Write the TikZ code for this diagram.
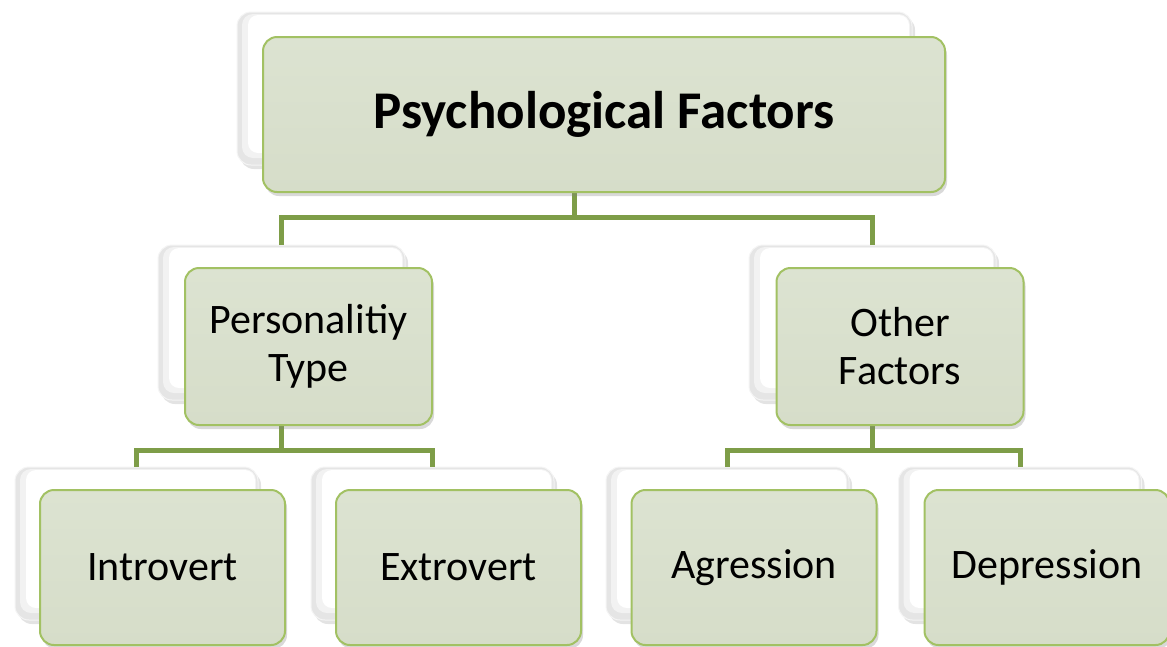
\documentclass[tikz,border=0pt]{standalone}
\usepackage{fontspec}
\setmainfont{Carlito}
\usetikzlibrary{shadows}
\definecolor{boxfill}{HTML}{D6DDC9}
\definecolor{boxfilltop}{HTML}{DCE3D1}
\definecolor{boxline}{HTML}{A2C163}
\definecolor{conn}{HTML}{7E9D48}
\tikzset{
  backbox/.style={rounded corners=14pt, minimum width=#1, inner sep=0pt, outer sep=0pt,
    draw=gray!8, line width=1pt, fill=gray!20,
    path picture={
      \fill[gray!10, rounded corners=11pt]
      ([xshift=5pt,yshift=-2pt]path picture bounding box.north west) rectangle
      ([xshift=-2pt,yshift=7pt]path picture bounding box.south east);
      \fill[white, rounded corners=10pt]
      ([xshift=11pt,yshift=-3pt]path picture bounding box.north west) rectangle
      ([xshift=-3pt,yshift=12pt]path picture bounding box.south east);},
    drop shadow={shadow xshift=3pt, shadow yshift=-4pt, opacity=0.22, fill=gray}},
  frontbox/.style={rounded corners=14pt, minimum width=#1, inner sep=0pt, outer sep=0pt,
    draw=boxline, line width=2pt, top color=boxfilltop, bottom color=boxfill,
    drop shadow={shadow xshift=2pt, shadow yshift=-4pt, opacity=0.3, fill=gray},
    align=center, font=\fontsize{42}{48}\selectfont},
  connector/.style={draw=conn, line width=5pt}
}
\begin{document}
\begin{tikzpicture}[x=1pt,y=-1pt]
\useasboundingbox (0,0) rectangle (1167,646);
\clip (0,0) rectangle (1167,646);
\coordinate (busA) at (0,217);
\coordinate (busB) at (0,450);
\coordinate (topc) at (574.5,165);
\coordinate (plc) at (281.5,400);
\coordinate (ofc) at (872.5,400);
% back boxes
\node[backbox=675pt, minimum height=153pt] (topb) at (574.5,88.5) {};
\node[backbox=247pt, minimum height=155pt] (plb) at (281.5,322.5) {};
\node[backbox=247pt, minimum height=155pt] (ofb) at (872.5,322.5) {};
\node[backbox=243pt, minimum height=153pt] (inb) at (136.5,543.5) {};
\node[backbox=243pt, minimum height=153pt] (exb) at (432.5,543.5) {};
\node[backbox=243pt, minimum height=153pt] (agb) at (727.5,543.5) {};
\node[backbox=243pt, minimum height=153pt] (deb) at (1020,543.5) {};
% connectors
\draw[connector] (topc) -- (topc |- busA) -| (plb.north);
\draw[connector] (topc |- busA) -| (ofb.north);
\draw[connector] (plc) -- (plc |- busB) -| (inb.north);
\draw[connector] (plc |- busB) -| (exb.north);
\draw[connector] (ofc) -- (ofc |- busB) -| (agb.north);
\draw[connector] (ofc |- busB) -| (deb.north);
% front boxes
\node[frontbox=682pt, minimum height=155pt, font=\fontsize{53}{60}\selectfont\bfseries] (top) at (604,114.5) {Psychological Factors};
\node[frontbox=247pt, minimum height=157pt] (pl) at (308.5,346.5) {Personalitiy\\Type};
\node[frontbox=247pt, minimum height=157pt] (of) at (900,346.5) {Other\\Factors};
\node[frontbox=245pt, minimum height=155pt] (in) at (162.5,567.5) {Introvert};
\node[frontbox=245pt, minimum height=155pt] (ex) at (458.5,567.5) {Extrovert};
\node[frontbox=245pt, minimum height=155pt] (ag) at (754,567.5) {Agression};
\node[frontbox=245pt, minimum height=155pt] (de) at (1047,567.5) {Depression};
\end{tikzpicture}
\end{document}
